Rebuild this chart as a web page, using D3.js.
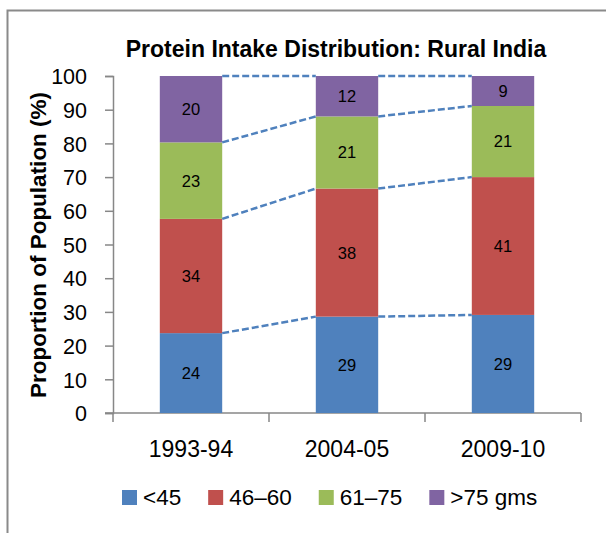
<!DOCTYPE html>
<html>
<head>
<meta charset="utf-8">
<script src="https://cdn.jsdelivr.net/npm/d3@7"></script>
<style>
  body { margin: 0; background: #fff; }
  text { font-family: "Liberation Sans", Arial, sans-serif; }
</style>
</head>
<body>
<div id="chart"></div>
<script>
// data (percent of population, each period sums to 100)
const periods = ['1993-94', '2004-05', '2009-10'];
const groups = ['<45', '46\u201360', '61\u201375', '>75 gms'];
const lt45 = [23.7, 28.6, 29.1];
const g46to60 = [33.9, 38.0, 40.9];
const g61to75 = [22.7, 21.4, 21.1];
const gt75 = [19.7, 12.0, 8.9];
const yTicks = [0, 10, 20, 30, 40, 50, 60, 70, 80, 90, 100];
const colors = ['#4f81bd', '#c0504d', '#9bbb59', '#8064a2'];

const width = 606, height = 533;
const margin = {top: 76, right: 25, bottom: 120, left: 113};

const svg = d3.select('#chart').append('svg')
    .attr('width', width)
    .attr('height', height);

// chart frame (cut off at right and bottom)
svg.append('path')
    .attr('d', `M7.5,${height} V10.5 H${width}`)
    .attr('fill', 'none')
    .attr('stroke', '#8a8a8a')
    .attr('stroke-width', 2);

// build rows for the stack
const series = [lt45, g46to60, g61to75, gt75];
const table = periods.map((p, i) => {
  const row = {period: p};
  groups.forEach((g, j) => row[g] = series[j][i]);
  return row;
});
const stacked = d3.stack().keys(groups)(table);

const x = d3.scaleBand()
    .domain(periods)
    .range([margin.left, width - margin.right])
    .paddingInner(0.6)
    .paddingOuter(0.3);

const y = d3.scaleLinear()
    .domain([0, 100])
    .range([height - margin.bottom, margin.top]);

// title
svg.append('text')
    .attr('x', 336)
    .attr('y', 57)
    .attr('text-anchor', 'middle')
    .attr('font-size', 23)
    .attr('font-weight', 'bold')
    .text('Protein Intake Distribution: Rural India');

// y axis
const yAxis = svg.append('g')
    .attr('transform', `translate(${margin.left},0)`)
    .call(d3.axisLeft(y).tickValues(yTicks).tickSize(8).tickPadding(18));
yAxis.select('.domain').attr('stroke', '#878787').attr('stroke-width', 1.5);
yAxis.selectAll('.tick line').attr('stroke', '#878787').attr('stroke-width', 1.5);
yAxis.selectAll('.tick text')
    .attr('font-size', 21.5)
    .attr('fill', '#000')
    .attr('dy', '0.36em');

svg.append('text')
    .attr('transform', `translate(46,245) rotate(-90)`)
    .attr('text-anchor', 'middle')
    .attr('font-size', 22.5)
    .attr('font-weight', 'bold')
    .text('Proportion of Population (%)');

// x axis line with ticks at band boundaries
const xBase = y(0);
const step = x.step();
const bounds = d3.range(periods.length + 1).map(i => margin.left + i * step);
svg.append('line')
    .attr('x1', margin.left - 8)
    .attr('x2', width - margin.right)
    .attr('y1', xBase)
    .attr('y2', xBase)
    .attr('stroke', '#878787')
    .attr('stroke-width', 1.5);
svg.selectAll('.xtick')
    .data(bounds)
  .join('line')
    .attr('class', 'xtick')
    .attr('x1', d => d)
    .attr('x2', d => d)
    .attr('y1', xBase)
    .attr('y2', xBase + 9)
    .attr('stroke', '#878787')
    .attr('stroke-width', 1.5);
svg.selectAll('.xlabel')
    .data(periods)
  .join('text')
    .attr('class', 'xlabel')
    .attr('x', d => x(d) + x.bandwidth() / 2)
    .attr('y', xBase + 44)
    .attr('text-anchor', 'middle')
    .attr('font-size', 23)
    .text(d => d);

// bars
const layer = svg.selectAll('.layer')
    .data(stacked)
  .join('g')
    .attr('class', 'layer')
    .attr('fill', (d, i) => colors[i]);

layer.selectAll('rect')
    .data(d => d)
  .join('rect')
    .attr('x', d => x(d.data.period))
    .attr('width', x.bandwidth())
    .attr('y', d => y(d[1]))
    .attr('height', d => y(d[0]) - y(d[1]));

layer.selectAll('.val')
    .data(d => d)
  .join('text')
    .attr('class', 'val')
    .attr('x', d => x(d.data.period) + x.bandwidth() / 2)
    .attr('y', d => (y(d[0]) + y(d[1])) / 2)
    .attr('dy', '0.36em')
    .attr('text-anchor', 'middle')
    .attr('font-size', 16.5)
    .attr('fill', '#000')
    .text(d => Math.round(d[1] - d[0]));

// dashed connectors between segment tops of neighbouring bars
const links = [];
stacked.forEach(s => {
  for (let i = 0; i < periods.length - 1; i++) {
    links.push({
      x1: x(periods[i]) + x.bandwidth(),
      y1: y(s[i][1]),
      x2: x(periods[i + 1]),
      y2: y(s[i + 1][1])
    });
  }
});
svg.selectAll('.link')
    .data(links)
  .join('line')
    .attr('class', 'link')
    .attr('x1', d => d.x1)
    .attr('y1', d => d.y1)
    .attr('x2', d => d.x2)
    .attr('y2', d => d.y2)
    .attr('stroke', '#4f81bd')
    .attr('stroke-width', 2.5)
    .attr('stroke-dasharray', '7,3');

// legend
const legend = svg.append('g').attr('transform', 'translate(122,490)');
let lx = 0;
groups.forEach((g, i) => {
  const item = legend.append('g').attr('transform', `translate(${lx},0)`);
  item.append('rect')
      .attr('width', 15)
      .attr('height', 15)
      .attr('fill', colors[i]);
  const t = item.append('text')
      .attr('x', 21)
      .attr('y', 15)
      .attr('font-size', 22.5)
      .text(g);
  lx += 21 + t.node().getComputedTextLength() + 27;
});
</script>
</body>
</html>
